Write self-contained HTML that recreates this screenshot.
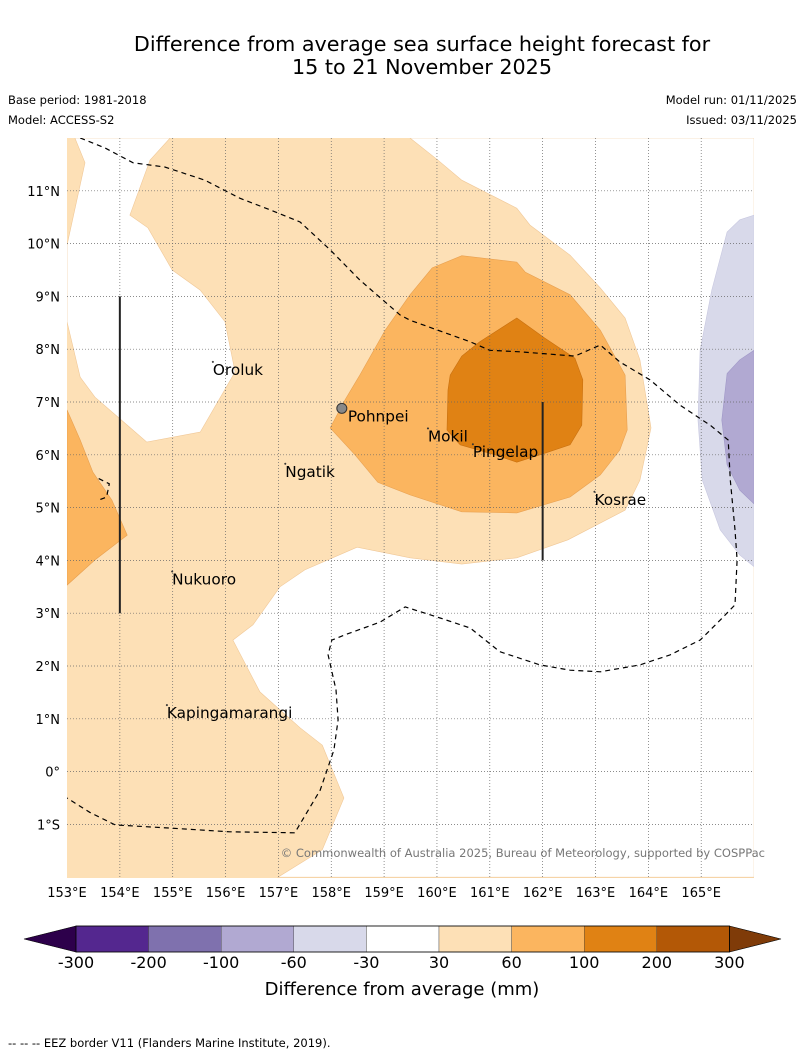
<!DOCTYPE html>
<html><head><meta charset="utf-8"><style>
body{margin:0;background:#fff;}
svg{display:block;font-family:"DejaVu Sans","Liberation Sans",sans-serif;}
</style></head><body>
<svg id="c" width="804" height="1058" viewBox="0 0 804 1058">
<text x="422" y="51" font-size="20.7" text-anchor="middle">Difference from average sea surface height forecast for</text>
<text x="422" y="74" font-size="20.7" text-anchor="middle">15 to 21 November 2025</text>
<text x="8" y="104" font-size="11.5">Base period: 1981-2018</text>
<text x="8" y="124" font-size="11.5">Model: ACCESS-S2</text>
<text x="797" y="104" font-size="11.5" text-anchor="end">Model run: 01/11/2025</text>
<text x="797" y="124" font-size="11.5" text-anchor="end">Issued: 03/11/2025</text>
<defs><clipPath id="mc"><rect x="67" y="138" width="687" height="740"/></clipPath></defs>
<g id="map" clip-path="url(#mc)"></g>
<g id="labels"></g>
<text x="765" y="857" font-size="11.5" fill="#777" text-anchor="end">© Commonwealth of Australia 2025, Bureau of Meteorology, supported by COSPPac</text>
<g id="cbar"></g>
<text x="402" y="995" font-size="18" text-anchor="middle">Difference from average (mm)</text>
<text x="8" y="1047" font-size="11.5">--  --  -- EEZ border V11 (Flanders Marine Institute, 2019).</text>
</svg>
<script>
const lonTicks=[153,154,155,156,157,158,159,160,161,162,163,164,165];
const latTicks=[11,10,9,8,7,6,5,4,3,2,1,0,-1];
const latTickLabels=["11°N","10°N","9°N","8°N","7°N","6°N","5°N","4°N","3°N","2°N","1°N","0°","1°S"];
const whiteHole=[[153.15,12],[153.34,11.53],[153,9.97],[153,8.52],[153.25,7.47],[153.53,7.09],[154.51,6.24],[155.52,6.43],[156.18,7.57],[155.99,8.52],[155.52,9.12],[154.99,9.5],[154.53,10.3],[154.19,10.54],[154.57,11.58],[154.95,12]];
const whiteEast=[[159.49,12],[160.02,11.58],[160.47,11.2],[161.51,10.67],[161.76,10.35],[162.52,9.78],[163.09,9.16],[163.56,8.59],[163.84,7.8],[164.05,6.51],[163.84,5.52],[163.56,4.95],[162.48,4.39],[161.51,4.05],[160.47,3.93],[159.49,4.05],[158.49,4.25],[157.5,3.82],[157.03,3.5],[156.52,2.78],[156.14,2.49],[156.65,1.51],[157.41,0.83],[157.83,0.5],[158.24,-0.5],[157.83,-1.48],[156.99,-2],[166,-2],[166,12]];
const midWest=[[153,6.85],[153.25,6.28],[153.49,5.67],[153.85,5.14],[154.14,4.48],[153.53,4.01],[153,3.53]];
const midMain=[[157.98,6.51],[158.26,7.04],[158.54,7.51],[159.02,8.36],[159.49,9.03],[159.91,9.54],[160.47,9.77],[161.51,9.65],[161.67,9.46],[162.52,9.03],[163.09,8.36],[163.56,7.51],[163.6,6.47],[163.46,6.09],[163.09,5.62],[162.52,5.2],[161.51,4.9],[160.47,4.92],[159.49,5.24],[158.88,5.48],[158.45,6]];
const darkMain=[[160.47,7.87],[160.81,8.14],[161.51,8.59],[162.04,8.21],[162.61,7.83],[162.76,7.42],[162.74,6.56],[162.52,6.19],[161.95,6],[161.51,5.86],[161.1,6],[160.44,6.19],[160.19,6.47],[160.21,7.23],[160.25,7.51]];
const lavLight=[[166,10.54],[165.73,10.45],[165.49,10.22],[165.2,9.12],[164.98,7.98],[164.94,6.66],[165.02,5.52],[165.36,4.58],[165.73,4.1],[166,3.88]];
const lavDark=[[166,7.98],[165.73,7.8],[165.49,7.54],[165.39,6.66],[165.49,5.81],[165.73,5.33],[166,5.07]];
const eezMain=[[153.25,12],[153.72,11.81],[154.25,11.53],[154.85,11.45],[155.61,11.2],[156.27,10.86],[156.84,10.64],[157.41,10.41],[157.98,9.88],[158.54,9.31],[159.3,8.65],[159.49,8.55],[160.63,8.14],[161,7.98],[161.57,7.95],[162.61,7.87],[163.09,8.08],[163.46,7.76],[164.03,7.42],[164.6,6.94],[165.17,6.56],[165.51,6.28],[165.55,5.52],[165.64,4.58],[165.68,4.01],[165.64,3.16],[165.36,2.87],[164.98,2.49],[164.41,2.21],[163.84,2.02],[163.09,1.89],[162.52,1.92],[161.95,2.02],[161.19,2.27],[160.63,2.72],[160.06,2.91],[159.4,3.12],[158.92,2.83],[158.26,2.59],[158.01,2.49],[157.94,2.21],[158.09,1.55],[158.13,0.98],[158.05,0.41],[157.79,-0.35],[157.31,-1.16],[156.08,-1.14],[154.95,-1.07],[153.91,-1.01],[153.43,-0.77],[153,-0.5]];
const eezSmall=[[153.6,5.55],[153.8,5.45],[153.75,5.2],[153.62,5.15]];
const boxLines=[[154,9,3],[162,7,4]];
const islandNames=["Oroluk","Pohnpei","Mokil","Pingelap","Kosrae","Ngatik","Nukuoro","Kapingamarangi"];
const islandLon=[155.76,158.2,159.83,160.68,162.98,157.13,154.99,154.89];
const islandLat=[7.76,6.88,6.5,6.2,5.3,5.83,3.79,1.26];
const cbColors=["#54278f","#7f71ae","#b1a9d2","#d8d9ea","#ffffff","#fde0b6","#fbb55f","#e08214","#b35806"];
const cbLabels=["-300","-200","-100","-60","-30","30","60","100","200","300"];

const X=lon=>67+(lon-153)*52.85;
const Y=lat=>138+(12-lat)*52.8;
const NS="http://www.w3.org/2000/svg";
function mk(tag,parent,attrs){const e=document.createElementNS(NS,tag);for(const k in attrs)e.setAttribute(k,attrs[k]);parent.appendChild(e);return e;}
const pts=a=>a.map(p=>X(p[0]).toFixed(1)+","+Y(p[1]).toFixed(1)).join(" ");
const map=document.getElementById("map");
let r=mk("rect",map,{x:67,y:138,width:687,height:740,fill:"#fde0b6"});


function poly(a,fill,name,stroke){const p=mk("polygon",map,{points:pts(a),fill:fill,stroke:stroke||"none","stroke-width":0.6});

}
poly(whiteHole,"#ffffff","neutral-region-west","#f0c898");
poly(whiteEast,"#ffffff","neutral-region-east","#f0c898");
poly(midWest,"#fbb55f","anomaly-60-100-west","#e8a050");
poly(midMain,"#fbb55f","anomaly-60-100-main","#e8a050");
poly(darkMain,"#e08214","anomaly-100-200-main","#c87010");
poly(lavLight,"#d8d9ea","anomaly-neg30-neg60","#c8c8e0");
poly(lavDark,"#b1a9d2","anomaly-neg60-neg100","#a098c8");
lonTicks.slice(1).forEach(l=>{const g=mk("line",map,{x1:X(l),x2:X(l),y1:138,y2:878,stroke:"#666","stroke-width":0.7,"stroke-dasharray":"1,2"});

});
latTicks.forEach(l=>{const g=mk("line",map,{x1:67,x2:754,y1:Y(l),y2:Y(l),stroke:"#666","stroke-width":0.7,"stroke-dasharray":"1,2"});

});
[eezMain,eezSmall].forEach(a=>{const e=mk("polyline",map,{points:pts(a),fill:"none",stroke:"#000","stroke-width":1.2,"stroke-dasharray":"5,4"});

});
boxLines.forEach(b=>{const e=mk("line",map,{x1:X(b[0]),x2:X(b[0]),y1:Y(b[1]),y2:Y(b[2]),stroke:"#222","stroke-width":2});

});
const lab=document.getElementById("labels");
islandNames.forEach((n,i)=>{
 const d=mk("circle",lab,{cx:X(islandLon[i]),cy:Y(islandLat[i]),r:n==="Pohnpei"?5:0.8,fill:n==="Pohnpei"?"#888":"#333",stroke:"#333","stroke-width":n==="Pohnpei"?1:0.5});
 
 
 const t=mk("text",lab,{x:X(islandLon[i])+(n==="Pohnpei"?6:0),y:Y(islandLat[i])+13,"font-size":15.3});
 t.textContent=n;
 
 
});
lonTicks.forEach(l=>{const t=mk("text",lab,{x:X(l),y:897,"font-size":13,"text-anchor":"middle"});t.textContent=l+"°E";

});
latTicks.forEach((l,i)=>{const t=mk("text",lab,{x:60,y:Y(l)+5,"font-size":13,"text-anchor":"end"});t.textContent=latTickLabels[i];

});
const cb=document.getElementById("cbar");
const cx0=76,cw=72.6,cy=926,ch=26;
let tl=mk("polygon",cb,{points:`24,${cy+ch/2} ${cx0},${cy} ${cx0},${cy+ch}`,fill:"#2d004b",stroke:"#000","stroke-width":0.6});


cbColors.forEach((c,i)=>{const b=mk("rect",cb,{x:cx0+i*cw,y:cy,width:cw,height:ch,fill:c,stroke:"#444","stroke-width":0.4});

});
const cx1=cx0+cbColors.length*cw;
let tr=mk("polygon",cb,{points:`${cx1},${cy} 781,${cy+ch/2} ${cx1},${cy+ch}`,fill:"#7f3b08",stroke:"#000","stroke-width":0.6});


mk("rect",cb,{x:cx0,y:cy,width:cx1-cx0,height:ch,fill:"none",stroke:"#000","stroke-width":0.8});
cbLabels.forEach((s,i)=>{const t=mk("text",cb,{x:cx0+i*cw,y:968,"font-size":16,"text-anchor":"middle"});t.textContent=s;

});
</script>
</body></html>
